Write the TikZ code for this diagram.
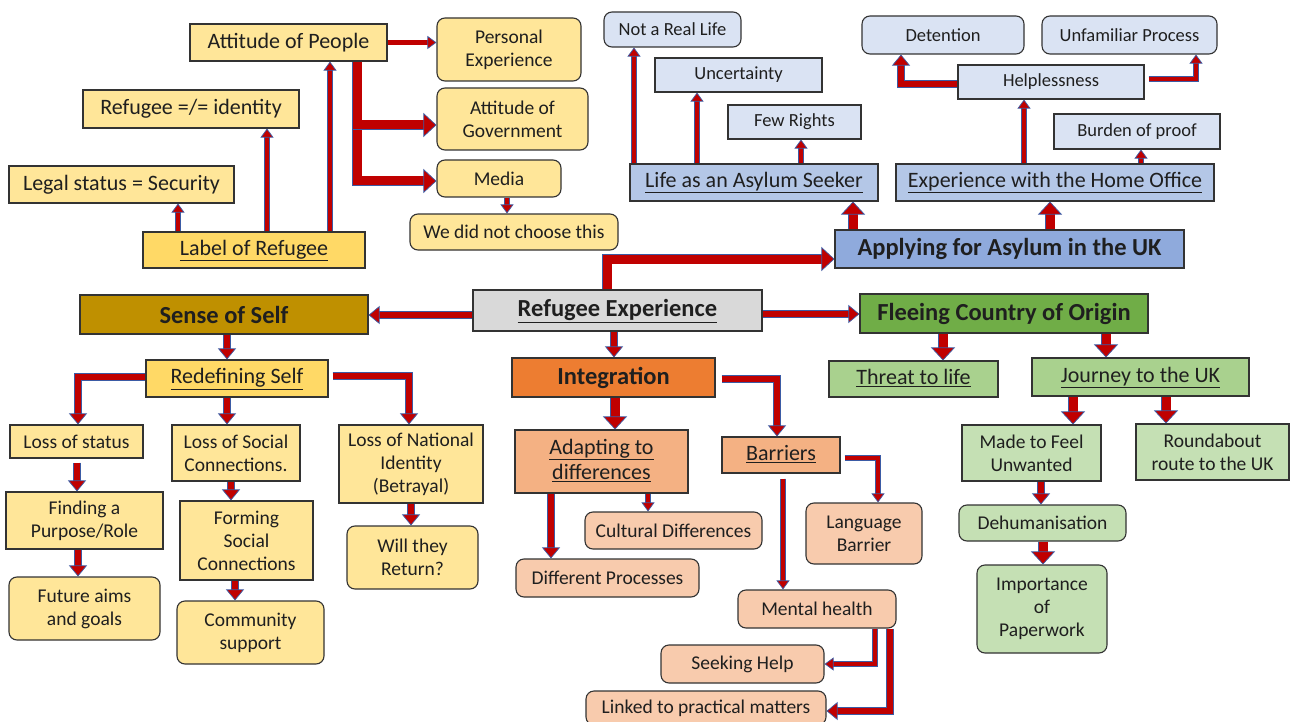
\documentclass[tikz,border=0pt]{standalone}
\usepackage{fontspec}
\setmainfont{Carlito}
\usetikzlibrary{arrows.meta}
\definecolor{yl}{HTML}{FFE699}
\definecolor{yd}{HTML}{FFD966}
\definecolor{gold}{HTML}{BF9000}
\definecolor{grey}{HTML}{D9D9D9}
\definecolor{orH}{HTML}{ED7D31}
\definecolor{orM}{HTML}{F4B183}
\definecolor{orL}{HTML}{F8CBAD}
\definecolor{grH}{HTML}{70AD47}
\definecolor{grM}{HTML}{A9D18E}
\definecolor{grL}{HTML}{C5E0B4}
\definecolor{blL}{HTML}{DAE3F3}
\definecolor{blM}{HTML}{B4C7E7}
\definecolor{blH}{HTML}{8FAADC}
\definecolor{arrred}{HTML}{C00000}
\definecolor{arrblue}{HTML}{3B5BA5}
\definecolor{bordc}{HTML}{333333}
\newcommand\rbx[7]{\node[#2, minimum width={#5pt-#3pt}, minimum height={#6pt-#4pt}] (#1) at ({(#3+#5)/2},{(#4+#6)/2}) {#7};}
\newcommand\ulx[1]{\raisebox{0pt}[\height][0.22em]{\underline{#1}}}
\tikzset{
  box/.style={draw=bordc, line width=1.1pt, align=center, inner sep=1pt, text=black!88},
  rbox/.style={box, rounded corners=8pt},
  fS/.style={font=\fontsize{18.5}{23}\selectfont},
  fN/.style={font=\fontsize{19.5}{23}\selectfont},
  fL/.style={font=\fontsize{22}{25}\selectfont},
  fH/.style={font=\fontsize{24.5}{26}\selectfont\bfseries},
  arrS/.style={draw=arrred, line width=4.5pt, -{Triangle[length=9pt, width=13pt, fill=arrred, color=arrblue, line width=0.7pt]},
    preaction={draw=arrblue, line width=5.9pt, arrows=-, shorten >=8pt}},
  arrM/.style={draw=arrred, line width=6.5pt, -{Triangle[length=11pt, width=18pt, fill=arrred, color=arrblue, line width=0.7pt]},
    preaction={draw=arrblue, line width=7.9pt, arrows=-, shorten >=10pt}},
  arrL/.style={draw=arrred, line width=9pt, -{Triangle[length=13pt, width=24pt, fill=arrred, color=arrblue, line width=0.7pt]},
    preaction={draw=arrblue, line width=10.4pt, arrows=-, shorten >=12pt}},
}
\begin{document}
\begin{tikzpicture}[x=1pt,y=-1pt]
\useasboundingbox (0,0) rectangle (1295,722);
\fill[white] (0,0) rectangle (1295,722);
\clip (0,0) rectangle (1295,722);
% ---------- top-left (yellow) ----------
\rbx{ap}{box,fill=yl,fL}{190}{24}{387}{61}{Attitude of People}
\rbx{pe}{rbox,fill=yl,fN}{437}{18}{581}{81}{Personal\\Experience}
\rbx{gov}{rbox,fill=yl,fN}{437}{88}{588}{150}{Attitude of\\Government}
\rbx{med}{rbox,fill=yl,fN}{437}{160}{561}{197}{Media}
\rbx{wdnc}{rbox,fill=yl,fN}{410}{214}{618}{250}{We did not choose this}
\rbx{rid}{box,fill=yl,fL}{83}{90}{299}{128}{Refugee =/= identity}
\rbx{ls}{box,fill=yl,fL}{9}{166}{234}{203}{Legal status = Security}
\rbx{lr}{box,fill=yd,fL}{143}{232}{365}{268}{\ulx{Label of Refugee}}
% ---------- top-right (blue) ----------
\rbx{narl}{rbox,fill=blL,fS}{604}{12}{741}{47}{Not a Real Life}
\rbx{unc}{box,fill=blL,fS}{655}{58}{822}{92}{Uncertainty}
\rbx{few}{box,fill=blL,fS}{728}{105}{861}{139}{Few Rights}
\rbx{life}{box,fill=blM,fL}{630}{164}{878}{201}{\ulx{Life as an Asylum Seeker}}
\rbx{det}{rbox,fill=blL,fS}{862}{16}{1024}{54}{Detention}
\rbx{unf}{rbox,fill=blL,fS}{1042}{16}{1217}{54}{Unfamiliar Process}
\rbx{help}{box,fill=blL,fS}{958}{65}{1144}{99}{Helplessness}
\rbx{bur}{box,fill=blL,fS}{1054}{114}{1220}{149}{Burden of proof}
\rbx{exp}{box,fill=blM,fL}{896}{164}{1214}{201}{\ulx{Experience with the Home Office}}
\rbx{app}{box,fill=blH,fH}{835}{230}{1184}{268}{Applying for Asylum in the UK}
% ---------- centre ----------
\rbx{re}{box,fill=grey,fH}{473}{290}{762}{331}{\ulx{Refugee Experience}}
\rbx{sos}{box,fill=gold,fH}{80}{295}{368}{334}{Sense of Self}
\rbx{flee}{box,fill=grH,fH}{860}{294}{1148}{333}{Fleeing Country of Origin}
\rbx{int}{box,fill=orH,fH}{512}{358}{715}{397}{Integration}
% ---------- sense of self ----------
\rbx{rs}{box,fill=yd,fL}{146}{360}{328}{397}{\ulx{Redefining Self}}
\rbx{los}{box,fill=yl,fN}{10}{425}{143}{458}{Loss of status}
\rbx{losc}{box,fill=yl,fN}{172}{425}{300}{481}{Loss of Social\\Connections.}
\rbx{lni}{box,fill=yl,fN}{339}{425}{483}{503}{Loss of National\\Identity\\(Betrayal)}
\rbx{fp}{box,fill=yl,fN}{6}{492}{163}{549}{Finding a\\Purpose/Role}
\rbx{fut}{rbox,fill=yl,fN}{9}{577}{160}{640}{Future aims\\and goals}
\rbx{form}{box,fill=yl,fN}{180}{501}{313}{580}{Forming\\Social\\Connections}
\rbx{comm}{rbox,fill=yl,fN}{177}{601}{324}{664}{Community\\support}
\rbx{will}{rbox,fill=yl,fN}{347}{526}{478}{589}{Will they\\Return?}
% ---------- integration ----------
\rbx{adapt}{box,fill=orM,fL}{515}{430}{688}{493}{\ulx{Adapting to}\\\ulx{differences}}
\rbx{bar}{box,fill=orM,fL}{722}{437}{840}{473}{\ulx{Barriers}}
\rbx{cult}{rbox,fill=orL,fN}{585}{512}{762}{549}{Cultural Differences}
\rbx{diff}{rbox,fill=orL,fN}{516}{559}{699}{597}{Different Processes}
\rbx{lang}{rbox,fill=orL,fN}{806}{503}{922}{564}{Language\\Barrier}
\rbx{mh}{rbox,fill=orL,fN}{738}{590}{896}{628}{Mental health}
\rbx{seek}{rbox,fill=orL,fN}{661}{645}{824}{683}{Seeking Help}
\rbx{link}{rbox,fill=orL,fN}{586}{691}{826}{725}{Linked to practical matters}
% ---------- fleeing ----------
\rbx{threat}{box,fill=grM,fL}{829}{361}{998}{397}{\ulx{Threat to life}}
\rbx{jour}{box,fill=grM,fL}{1032}{358}{1249}{396}{\ulx{Journey to the UK}}
\rbx{made}{box,fill=grL,fN}{962}{425}{1101}{481}{Made to Feel\\Unwanted}
\rbx{round}{box,fill=grL,fN}{1136}{424}{1289}{480}{Roundabout\\route to the UK}
\rbx{dehum}{rbox,fill=grL,fN}{959}{505}{1126}{541}{Dehumanisation}
\rbx{imp}{rbox,fill=grL,fN}{977}{565}{1107}{653}{Importance\\of\\Paperwork}
% ================= arrows =================
\draw[arrS] (ap.east) -- (pe.west |- ap.east);
\draw[arrL] (ap.south -| 357,0) |- (med.west |- 0,181);
\draw[arrL] (ap.south -| 357,0) |- (gov.west |- 0,125);
\draw[arrS] (lr.north -| 178,0) -- (ls.south -| 178,0);
\draw[arrS] (lr.north -| 267,0) -- (rid.south -| 267,0);
\draw[arrS] (lr.north -| 330,0) -- (ap.south -| 330,0);
\draw[arrS] (med.south -| 507,0) -- (wdnc.north -| 507,0);
%
\draw[arrS] (life.north -| 634,0) -- (narl.south -| 634,0);
\draw[arrS] (life.north -| 697,0) -- (unc.south -| 697,0);
\draw[arrS] (life.north -| 801,0) -- (few.south -| 801,0);
\draw[arrS] (exp.north -| 1024,0) -- (help.south -| 1024,0);
\draw[arrS] (exp.north -| 1141,0) -- (bur.south -| 1141,0);
\draw[arrM] (help.west |- 0,84) -| (det.south -| 901,0);
\draw[arrS, shorten <=4pt] (help.east |- 0,79) -| (unf.south -| 1196,0);
\draw[arrL] (app.north -| 853,0) -- (life.south -| 853,0);
\draw[arrL] (app.north -| 1050,0) -- (exp.south -| 1050,0);
\draw[arrL] (re.north -| 607,0) |- (app.west |- 0,259);
%
\draw[arrM] (re.west |- 0,315) -- (sos.east |- 0,315);
\draw[arrM] (re.east |- 0,314) -- (flee.west |- 0,314);
\draw[arrM] (re.south -| 614,0) -- (int.north -| 614,0);
%
\draw[arrM] (sos.south -| 227,0) -- (rs.north -| 227,0);
\draw[arrM] (rs.west |- 0,377) -| (los.north -| 78,0);
\draw[arrM] (rs.south -| 227,0) -- (losc.north -| 227,0);
\draw[arrM, shorten <=4pt] (rs.east |- 0,376) -| (lni.north -| 409,0);
\draw[arrM, shorten <=4pt] (los.south -| 77,0) -- (fp.north -| 77,0);
\draw[arrM] (fp.south -| 78,0) -- (fut.north -| 78,0);
\draw[arrM] (losc.south -| 231,0) -- (form.north -| 231,0);
\draw[arrM] (form.south -| 235,0) -- (comm.north -| 235,0);
\draw[arrM] (lni.south -| 411,0) -- (will.north -| 411,0);
%
\draw[arrL] (int.south -| 615,0) -- (adapt.north -| 615,0);
\draw[arrM, shorten <=6pt] (int.east |- 0,379) -| (bar.north -| 777,0);
\draw[arrS] (adapt.south -| 648,0) -- (cult.north -| 648,0);
\draw[arrM] (adapt.south -| 551,0) -- (diff.north -| 551,0);
\draw[arrS, shorten <=4pt] (bar.east |- 0,458) -| (lang.north -| 878,0);
\draw[arrS, shorten <=5pt] (bar.south -| 783,0) -- (mh.north -| 783,0);
\draw[arrS] (mh.south -| 875,0) |- (seek.east |- 0,664);
\draw[arrM] (mh.south -| 890,0) |- (link.east |- 0,711);
%
\draw[arrL] (flee.south -| 943,0) -- (threat.north -| 943,0);
\draw[arrL] (flee.south -| 1106,0) -- (jour.north -| 1106,0);
\draw[arrL] (jour.south -| 1073,0) -- (made.north -| 1073,0);
\draw[arrL] (jour.south -| 1166,0) -- (round.north -| 1166,0);
\draw[arrM] (made.south -| 1041,0) -- (dehum.north -| 1041,0);
\draw[arrL] (dehum.south -| 1043,0) -- (imp.north -| 1043,0);
\end{tikzpicture}
\end{document}
